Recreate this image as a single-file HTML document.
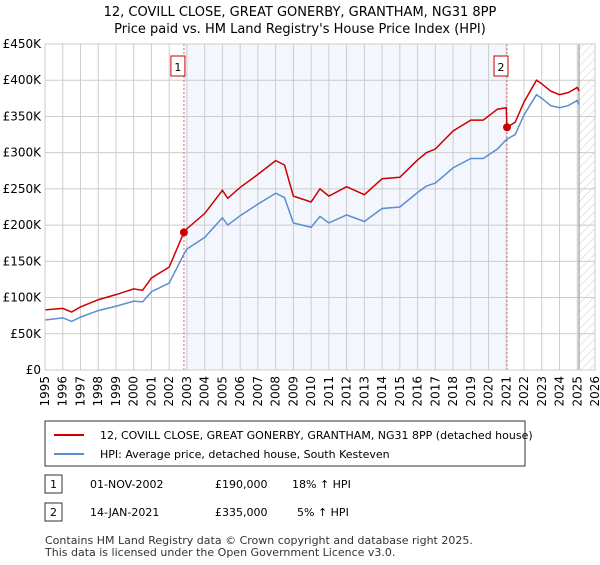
<!DOCTYPE html>
<html><head><meta charset="utf-8"><style>
body{margin:0;background:#fff;font-family:"Liberation Sans","DejaVu Sans",sans-serif;}
svg text{font-family:"DejaVu Sans","Liberation Sans",sans-serif;}
</style></head><body>
<svg width="600" height="560" xmlns="http://www.w3.org/2000/svg">
<defs><pattern id="hatch" width="6" height="6" patternUnits="userSpaceOnUse" patternTransform="rotate(45)"><line x1="0" y1="0" x2="0" y2="6" stroke="#ccc" stroke-width="1"/></pattern></defs>
<text x="300" y="16" text-anchor="middle" font-size="13">12, COVILL CLOSE, GREAT GONERBY, GRANTHAM, NG31 8PP</text>
<text x="300" y="33" text-anchor="middle" font-size="13">Price paid vs. HM Land Registry's House Price Index (HPI)</text>
<g id="plot"></g>
<g>
<rect x="45" y="421" width="480" height="45" fill="#fff" stroke="#333"/>
<line x1="54" y1="435" x2="84" y2="435" stroke="#cc0000" stroke-width="2"/>
<text x="100" y="439" font-size="11">12, COVILL CLOSE, GREAT GONERBY, GRANTHAM, NG31 8PP (detached house)</text>
<line x1="54" y1="454" x2="84" y2="454" stroke="#5b8dd0" stroke-width="2"/>
<text x="100" y="458" font-size="11">HPI: Average price, detached house, South Kesteven</text>
</g>
<g font-size="11">
<rect x="45" y="475" width="17" height="18" fill="#fff" stroke="#333"/><text x="53.5" y="488" text-anchor="middle">1</text>
<text x="90" y="488">01-NOV-2002</text><text x="215" y="488">£190,000</text><text x="292" y="488">18% ↑ HPI</text>
<rect x="45" y="503" width="17" height="18" fill="#fff" stroke="#333"/><text x="53.5" y="516" text-anchor="middle">2</text>
<text x="90" y="516">14-JAN-2021</text><text x="215" y="516">£335,000</text><text x="297" y="516">5% ↑ HPI</text>
</g>
<text x="45" y="544" font-size="11" fill="#333">Contains HM Land Registry data © Crown copyright and database right 2025.</text>
<text x="45" y="556" font-size="11" fill="#333">This data is licensed under the Open Government Licence v3.0.</text>
</svg>
<script>
const yTicks=[0,50,100,150,200,250,300,350,400,450];
const yLabels=["£0","£50K","£100K","£150K","£200K","£250K","£300K","£350K","£400K","£450K"];
const xYears=[1995,1996,1997,1998,1999,2000,2001,2002,2003,2004,2005,2006,2007,2008,2009,2010,2011,2012,2013,2014,2015,2016,2017,2018,2019,2020,2021,2022,2023,2024,2025,2026];
const redT=[1995,1996,1996.5,1997,1998,1999,2000,2000.5,2001,2002,2002.83,2003,2004,2005,2005.3,2006,2007,2008,2008.5,2009,2010,2010.5,2011,2012,2013,2014,2015,2016,2016.5,2017,2018,2019,2019.7,2020.5,2021,2021.04,2021.5,2022,2022.7,2023,2023.5,2024,2024.5,2025,2025.1];
const redV=[83,85,80,87,97,104,112,110,127,142,190,195,216,248,237,252,270,289,283,240,232,250,240,253,242,264,266,290,300,305,330,345,345,360,362,335,342,370,400,395,385,380,383,390,385];
const blueT=[1995,1996,1996.5,1997,1998,1999,2000,2000.5,2001,2002,2002.83,2003,2004,2005,2005.3,2006,2007,2008,2008.5,2009,2010,2010.5,2011,2012,2013,2014,2015,2016,2016.5,2017,2018,2019,2019.7,2020.5,2021,2021.5,2022,2022.7,2023,2023.5,2024,2024.5,2025,2025.1];
const blueV=[69,72,67,73,82,88,95,94,108,120,160,167,183,210,200,213,229,244,238,203,197,212,203,214,205,223,225,245,254,258,279,292,292,305,318,325,352,380,375,365,362,365,372,366];
const saleT=[2002.83,2021.04];
const saleV=[190,335];
const saleLbl=["1","2"];
const X0=45,X1=595,Y0=370,Y1=44;
const sx=t=>X0+(t-1995)/(2026-1995)*(X1-X0);
const sy=v=>Y0-v/450*(Y0-Y1);
const g=document.getElementById('plot');const NS="http://www.w3.org/2000/svg";
function mk(tag,at,parent){const e=document.createElementNS(NS,tag);for(const k in at)e.setAttribute(k,at[k]);(parent||g).appendChild(e);return e;}
let e=mk('rect',{x:sx(saleT[0]),y:Y1,width:sx(saleT[1])-sx(saleT[0]),height:Y0-Y1,fill:'#eef3fc',opacity:0.7});


e=mk('rect',{x:sx(2025.1),y:Y1,width:X1-sx(2025.1),height:Y0-Y1,fill:'url(#hatch)'});


yTicks.forEach((v,i)=>{mk('line',{x1:X0,x2:X1,y1:sy(v),y2:sy(v),stroke:'#ccc'});
const t=mk('text',{x:X0-4,y:sy(v)+4,'text-anchor':'end','font-size':12});t.textContent=yLabels[i];

});
xYears.forEach(y=>{mk('line',{x1:sx(y),x2:sx(y),y1:Y1,y2:Y0,stroke:'#ccc'});
const t=mk('text',{transform:`translate(${sx(y)+4},${Y0+6}) rotate(-90)`,'text-anchor':'end','font-size':12});t.textContent=y;

});
mk('line',{x1:sx(2025.1),x2:sx(2025.1),y1:Y1,y2:Y0,stroke:'#888'});
saleT.forEach((t,i)=>{mk('line',{x1:sx(t),x2:sx(t),y1:Y1,y2:Y0,stroke:'#e66','stroke-dasharray':'2,2'});
mk('rect',{x:sx(t)-13,y:56,width:14,height:20,fill:'#fff',stroke:'#c00'});
const tx=mk('text',{x:sx(t)-6,y:71,'text-anchor':'middle','font-size':11});tx.textContent=saleLbl[i];

});
e=mk('polyline',{points:blueT.map((t,i)=>sx(t)+','+sy(blueV[i])).join(' '),fill:'none',stroke:'#5b8dd0','stroke-width':1.5});


e=mk('polyline',{points:redT.map((t,i)=>sx(t)+','+sy(redV[i])).join(' '),fill:'none',stroke:'#cc0000','stroke-width':1.5});


saleT.forEach((t,i)=>{const c=mk('circle',{cx:sx(t),cy:sy(saleV[i]),r:4,fill:'#cc0000'});

});
mk('rect',{x:X0,y:Y1,width:X1-X0,height:Y0-Y1,fill:'none',stroke:'#ccc'});
</script>
</body></html>
